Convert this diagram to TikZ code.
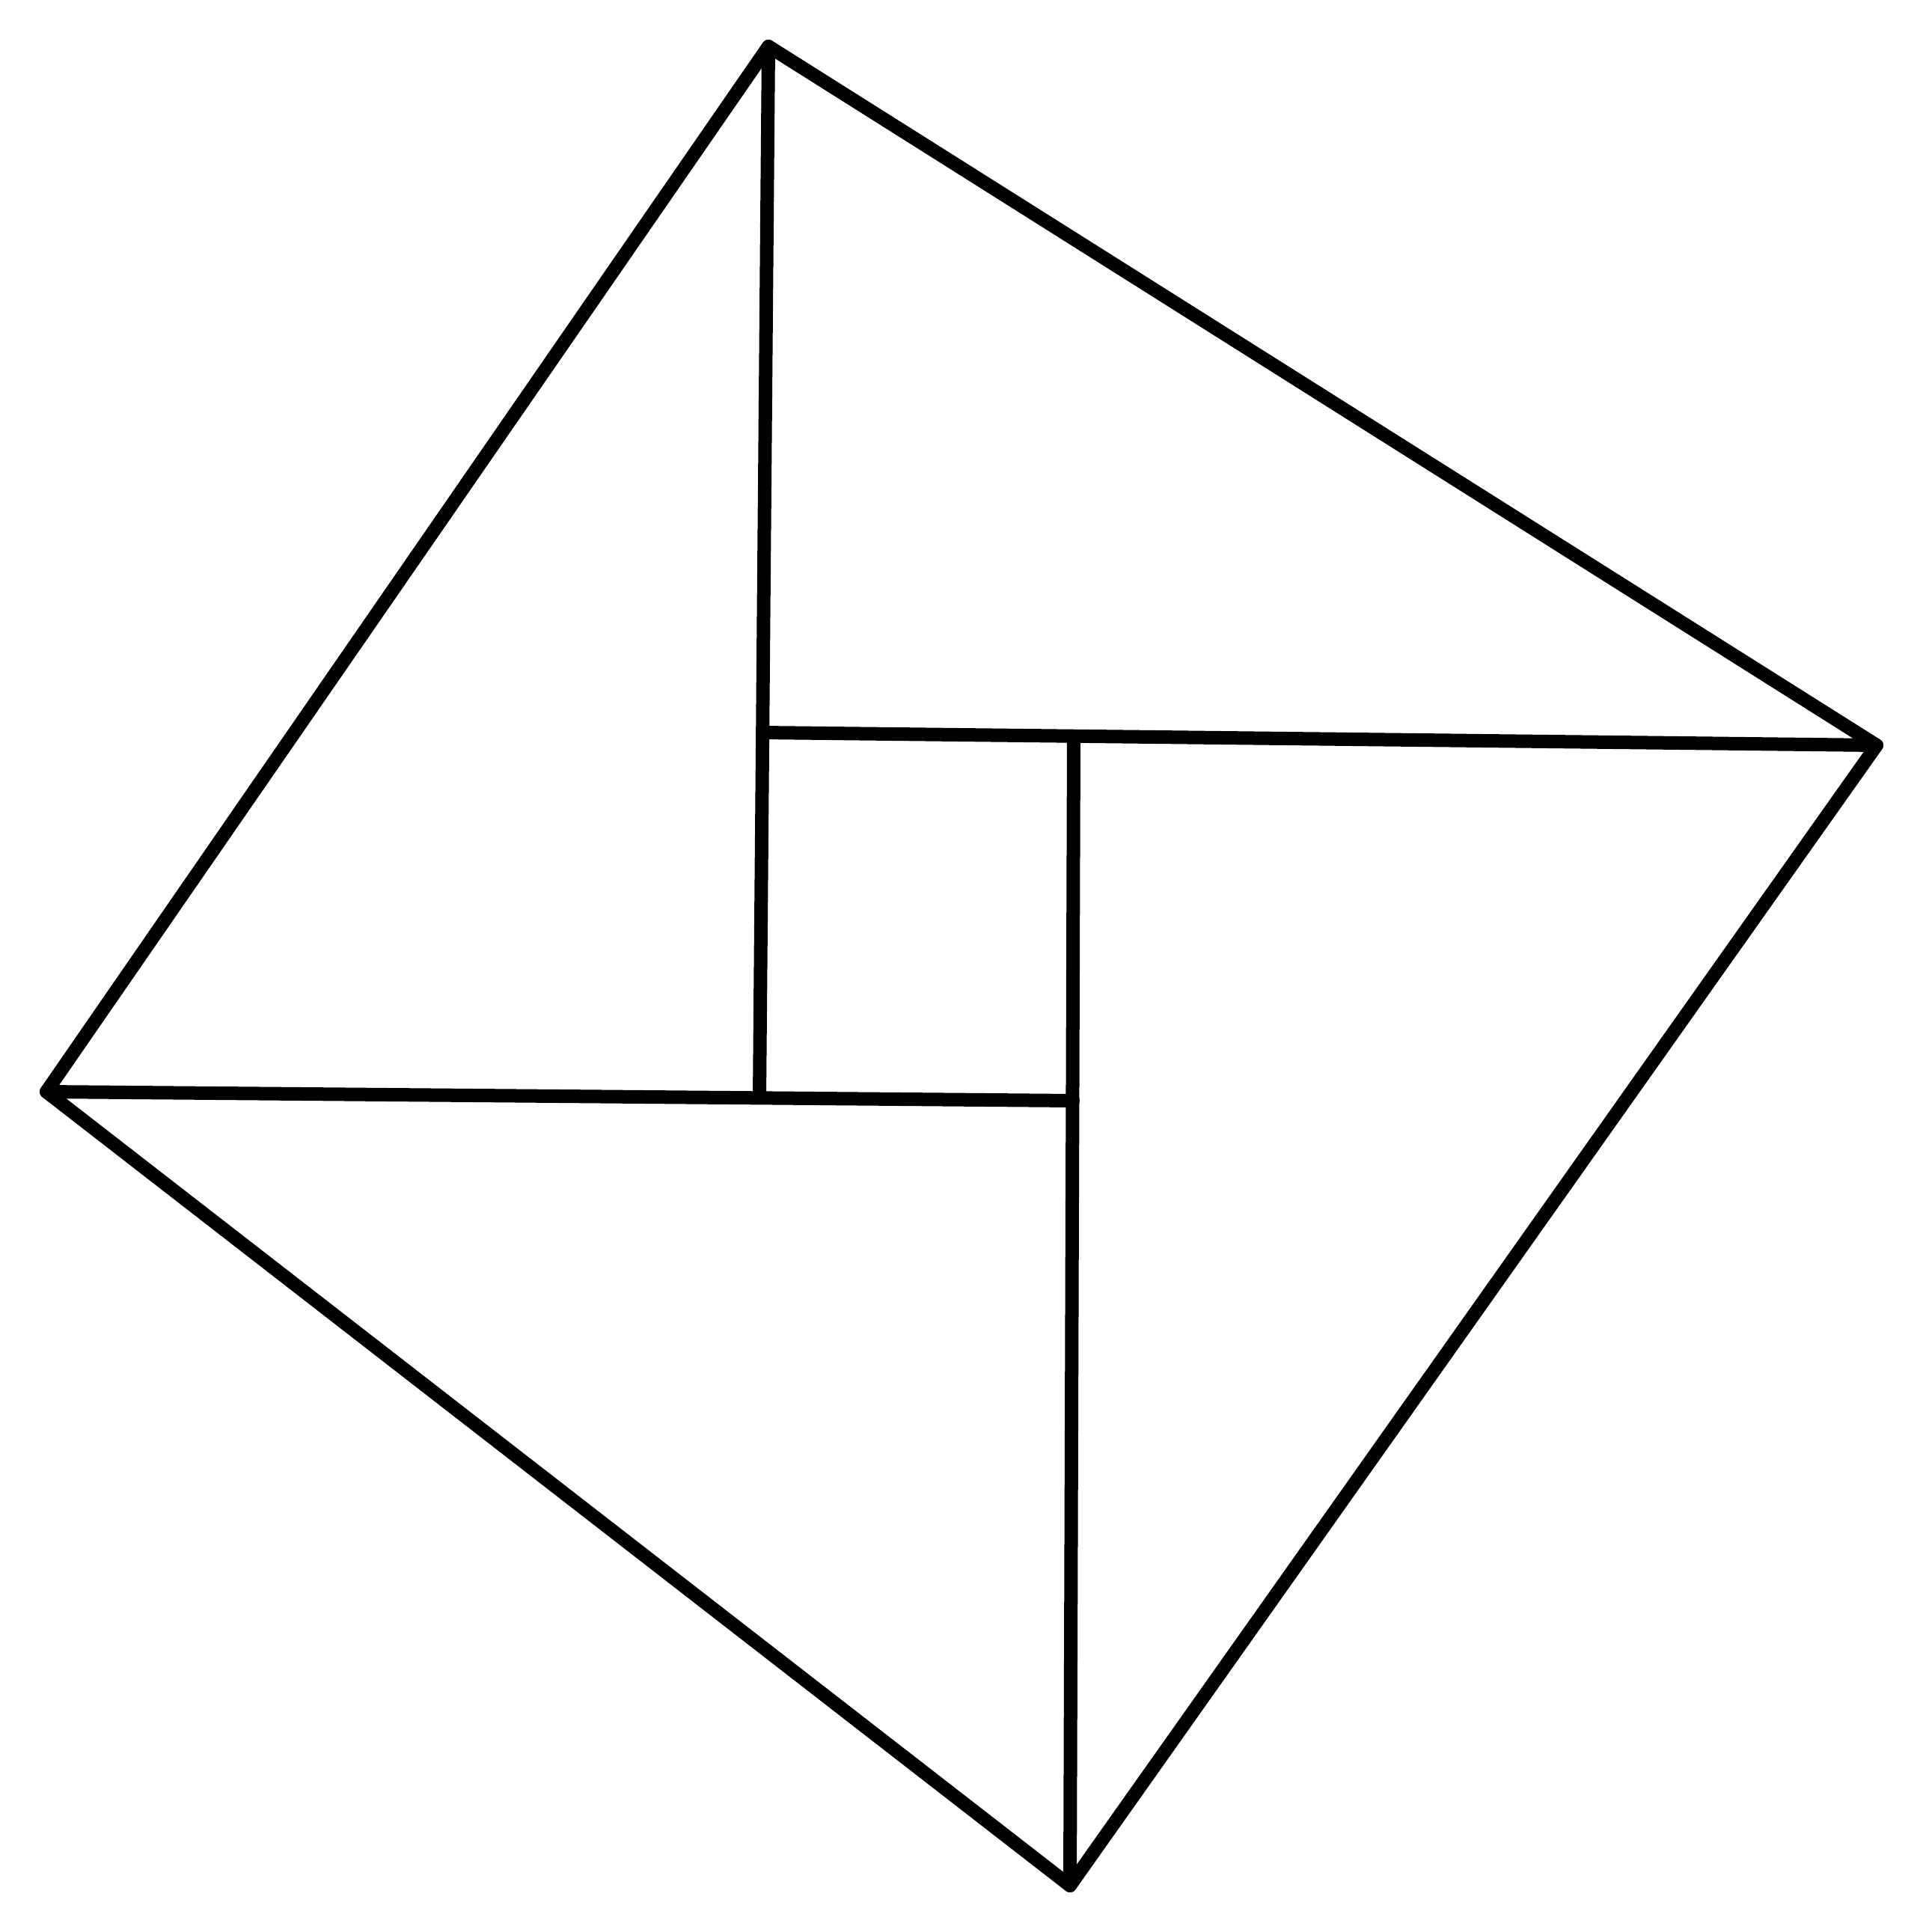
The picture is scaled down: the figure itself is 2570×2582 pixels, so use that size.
\documentclass[tikz,border=0pt]{standalone}
\begin{document}
\begin{tikzpicture}[x=0.01cm,y=-0.01cm,
  edge/.style={draw=black,line width=0.18cm,line join=round,line cap=round}]
\useasboundingbox (0,0) rectangle (2570,2582);
\coordinate (A) at (1027,62);
\coordinate (B) at (2508,996);
\coordinate (C) at (1430,2520);
\coordinate (D) at (62,1459);
\coordinate (E) at (1019,979);
\coordinate (F) at (1435,984);
\coordinate (G) at (1434,1471);
\coordinate (H) at (1015,1467);
\draw[edge] (A) -- (B) -- (C) -- (D) -- cycle;
\draw[edge] (A) -- (H);
\draw[edge] (D) -- (G);
\draw[edge] (B) -- (E);
\draw[edge] (C) -- (F);
\end{tikzpicture}
\end{document}
